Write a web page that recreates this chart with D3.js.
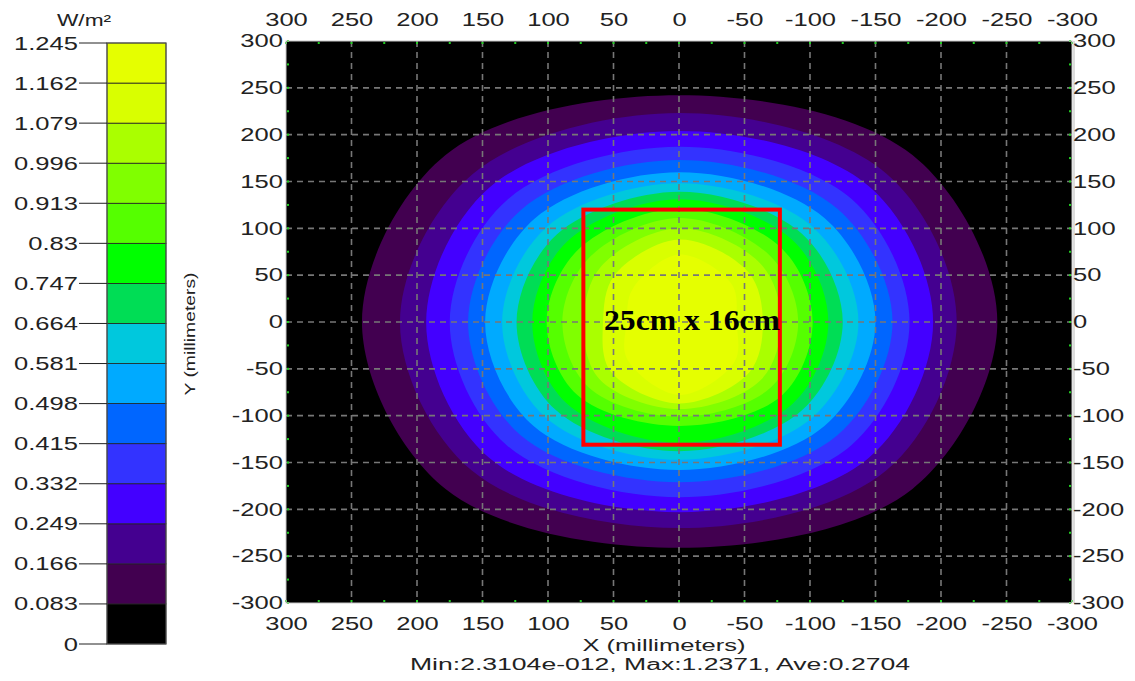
<!DOCTYPE html>
<html>
<head>
<meta charset="utf-8">
<script src="https://cdn.jsdelivr.net/npm/d3@7"></script>
<style>
  html, body { margin: 0; padding: 0; background: #fff; }
  svg { display: block; font-family: "Liberation Sans", Arial, sans-serif; }
</style>
</head>
<body>
<svg id="chart" width="1135" height="681"></svg>
<script>
// ---------- data ----------
// legend breaks (W/m²)
const legendTicks = [0, 0.083, 0.166, 0.249, 0.332, 0.415, 0.498, 0.581, 0.664, 0.747, 0.83, 0.913, 0.996, 1.079, 1.162, 1.245];
const legendLabels = ['0', '0.083', '0.166', '0.249', '0.332', '0.415', '0.498', '0.581', '0.664', '0.747', '0.83', '0.913', '0.996', '1.079', '1.162', '1.245'];
const binColors = ['#000000', '#420050', '#440090', '#4300ff', '#3333ff', '#0066ff', '#00aaff', '#00c8dd', '#00dd55',
                   '#00ff00', '#55ff00', '#80ff00', '#aaff00', '#d9ff00', '#e5ff00'];

// contour levels and their radius (mm), in the screen
// directions E, NE, N, NW, W, SW, S, SE
const contourLevels = [0.083, 0.166, 0.249, 0.332, 0.415, 0.498, 0.581, 0.664, 0.747, 0.83, 0.913, 0.996, 1.079, 1.162];
const contourRadii = [
  [243, 252, 242, 252, 242, 252, 241, 252],
  [212, 224, 223, 223, 213, 224, 220, 224],
  [194, 205, 204, 204, 193, 205, 203, 205],
  [176, 186, 187, 185, 175, 186, 187, 186],
  [163, 171, 173, 170, 161, 171, 171, 171],
  [150, 157, 160, 156, 148, 157, 158, 157],
  [137, 144, 148, 143, 135, 144, 147, 144],
  [125, 133, 139, 132, 124, 133, 138, 133],
  [114, 123, 131, 121, 112, 122, 129, 123],
  [102, 111, 121, 109, 101, 110, 111, 111],
  [91, 99, 111, 97, 89, 98, 101, 99],
  [78, 88, 100, 84, 73, 86, 93, 88],
  [64, 75, 88, 70, 58, 74, 87, 76],
  [44, 57, 72, 50, 40, 56, 78, 60]
];
const dirAngles = [0, 45, 90, 135, 180, 225, 270, 315];

const axisTicks = [300, 250, 200, 150, 100, 50, 0, -50, -100, -150, -200, -250, -300];
const minorTicks = d3.range(-300, 301, 25);

// measurement box (mm) and label
const boxX = [73, -77];
const boxY = [120, -131];
const boxLabel = '25cm x 16cm';
const statsText = 'Min:2.3104e-012, Max:1.2371, Ave:0.2704';

// ---------- layout ----------
const svg = d3.select('#chart');
const plot = { left: 286, right: 1072, top: 41, bottom: 603 };
const SX = 1.42; // the reference's lettering is stretched sideways
const ink = '#222';

const x = d3.scaleLinear().domain([300, -300]).range([plot.left, plot.right]);
const y = d3.scaleLinear().domain([300, -300]).range([plot.top, plot.bottom]);
const color = d3.scaleThreshold().domain(legendTicks.slice(1, -1)).range(binColors);

svg.append('clipPath').attr('id', 'clip')
  .append('rect')
  .attr('x', plot.left).attr('y', plot.top)
  .attr('width', plot.right - plot.left).attr('height', plot.bottom - plot.top);

const g = svg.append('g').attr('clip-path', 'url(#clip)');

// background = lowest bin
g.append('rect')
  .attr('x', plot.left).attr('y', plot.top)
  .attr('width', plot.right - plot.left).attr('height', plot.bottom - plot.top)
  .attr('fill', binColors[0]);

// filled contour bands, outermost first
const ring = d3.line()
  .x(d => x(d[0])).y(d => y(d[1]))
  .curve(d3.curveCatmullRomClosed.alpha(0.5));

contourLevels.forEach((lv, i) => {
  const pts = contourRadii[i].map((r, k) => {
    const a = dirAngles[k] * Math.PI / 180;
    return [-r * Math.cos(a), r * Math.sin(a)];
  });
  g.append('path')
    .attr('d', ring(pts))
    .attr('fill', color(lv + 0.001));
});

// dashed grid
g.selectAll('line.vg').data(axisTicks.slice(1, -1)).enter().append('line')
  .attr('x1', d => x(d)).attr('x2', d => x(d))
  .attr('y1', plot.top).attr('y2', plot.bottom)
  .attr('stroke', '#777').attr('stroke-width', 1.6).attr('stroke-dasharray', '6,5');
g.selectAll('line.hg').data(axisTicks.slice(1, -1)).enter().append('line')
  .attr('y1', d => y(d)).attr('y2', d => y(d))
  .attr('x1', plot.left).attr('x2', plot.right)
  .attr('stroke', '#777').attr('stroke-width', 1.6).attr('stroke-dasharray', '6,5');

// green minor ticks on each edge
const mt = svg.append('g').attr('fill', '#22cc22');
minorTicks.forEach(v => {
  mt.append('rect').attr('x', x(v) - 1).attr('y', plot.top + 1).attr('width', 2).attr('height', 2);
  mt.append('rect').attr('x', x(v) - 1).attr('y', plot.bottom - 3).attr('width', 2).attr('height', 2);
  mt.append('rect').attr('x', plot.left + 1).attr('y', y(v) - 1).attr('width', 2).attr('height', 2);
  mt.append('rect').attr('x', plot.right - 3).attr('y', y(v) - 1).attr('width', 2).attr('height', 2);
});

// plot frame
svg.append('rect')
  .attr('x', plot.left).attr('y', plot.top)
  .attr('width', plot.right - plot.left).attr('height', plot.bottom - plot.top)
  .attr('fill', 'none').attr('stroke', '#c8c8c8').attr('stroke-width', 1);
svg.append('rect')
  .attr('x', plot.right + 1).attr('y', plot.top)
  .attr('width', 2).attr('height', plot.bottom - plot.top)
  .attr('fill', '#ddd');

// measurement box
svg.append('rect')
  .attr('x', x(boxX[0])).attr('y', y(boxY[0]))
  .attr('width', x(boxX[1]) - x(boxX[0])).attr('height', y(boxY[1]) - y(boxY[0]))
  .attr('fill', 'none').attr('stroke', '#ff0000').attr('stroke-width', 4);

svg.append('text')
  .attr('x', 692).attr('y', y(0) + 8)
  .attr('text-anchor', 'middle')
  .attr('textLength', 176).attr('lengthAdjust', 'spacingAndGlyphs')
  .style('font-family', '"Liberation Serif", "Times New Roman", serif')
  .style('font-weight', 'bold').style('font-size', '30px')
  .attr('fill', '#000')
  .text(boxLabel);

// axes
const fmt = d => String(d);
function styleAxis(sel) {
  sel.select('.domain').remove();
  sel.selectAll('.tick line').remove();
  sel.selectAll('.tick text')
    .attr('fill', ink)
    .style('font-size', '18px')
    .style('font-family', '"Liberation Sans", Arial, sans-serif');
}

const topAx = svg.append('g').attr('transform', `translate(0,${plot.top})`)
  .call(d3.axisTop(x).tickValues(axisTicks).tickFormat(fmt).tickSize(0).tickPadding(15))
  .call(styleAxis);
topAx.selectAll('.tick text').attr('transform', `scale(${SX},1)`);

const botAx = svg.append('g').attr('transform', `translate(0,${plot.bottom})`)
  .call(d3.axisBottom(x).tickValues(axisTicks).tickFormat(fmt).tickSize(0).tickPadding(14))
  .call(styleAxis);
botAx.selectAll('.tick text').attr('transform', `scale(${SX},1)`);

const leftAx = svg.append('g').attr('transform', `translate(${plot.left},0)`)
  .call(d3.axisLeft(y).tickValues(axisTicks).tickFormat(fmt).tickSize(0).tickPadding(3))
  .call(styleAxis);
leftAx.selectAll('.tick text').attr('x', 0).attr('transform', `translate(-3,0) scale(${SX},1)`);

const rightAx = svg.append('g').attr('transform', `translate(${plot.right},0)`)
  .call(d3.axisRight(y).tickValues(axisTicks).tickFormat(fmt).tickSize(0).tickPadding(1))
  .call(styleAxis);
rightAx.selectAll('.tick text').attr('x', 0).attr('transform', `translate(1,0) scale(${SX},1)`);

svg.append('text')
  .attr('x', 664).attr('y', 651)
  .attr('text-anchor', 'middle').attr('fill', ink).style('font-size', '16px')
  .attr('textLength', 163).attr('lengthAdjust', 'spacingAndGlyphs')
  .text('X (millimeters)');
svg.append('text')
  .attr('x', 660).attr('y', 670)
  .attr('text-anchor', 'middle').attr('fill', ink).style('font-size', '16px')
  .attr('textLength', 500).attr('lengthAdjust', 'spacingAndGlyphs')
  .text(statsText);
svg.append('text')
  .attr('transform', 'translate(195,334) rotate(-90)')
  .attr('text-anchor', 'middle').attr('fill', ink).style('font-size', '15px')
  .attr('textLength', 123).attr('lengthAdjust', 'spacingAndGlyphs')
  .text('Y (millimeters)');

// ---------- legend ----------
const ly = d3.scaleLinear().domain([0, 1.245]).range([644, 43]);
const legend = svg.append('g');
legend.selectAll('rect.bin').data(binColors).enter().append('rect')
  .attr('class', 'bin')
  .attr('x', 107).attr('width', 59)
  .attr('y', (d, i) => ly(legendTicks[i + 1]))
  .attr('height', (d, i) => ly(legendTicks[i]) - ly(legendTicks[i + 1]))
  .attr('fill', d => d)
  .attr('stroke', '#222').attr('stroke-width', 0.8);
legend.append('rect')
  .attr('x', 107).attr('y', ly(1.245)).attr('width', 59).attr('height', ly(0) - ly(1.245))
  .attr('fill', 'none').attr('stroke', '#555').attr('stroke-width', 1);

legend.selectAll('line.lt').data(legendTicks).enter().append('line')
  .attr('x1', 79).attr('x2', 107)
  .attr('y1', d => ly(d)).attr('y2', d => ly(d))
  .attr('stroke', '#222').attr('stroke-width', 1);
legend.selectAll('text.ll').data(legendTicks).enter().append('text')
  .attr('transform', d => `translate(78,${ly(d) + 6.5}) scale(${SX},1)`)
  .attr('text-anchor', 'end').attr('fill', ink).style('font-size', '18px')
  .text((d, i) => legendLabels[i]);
legend.append('text')
  .attr('transform', `translate(84,26) scale(${SX},1)`)
  .attr('text-anchor', 'middle').attr('fill', ink).style('font-size', '16px')
  .text('W/m²');
</script>
</body>
</html>
